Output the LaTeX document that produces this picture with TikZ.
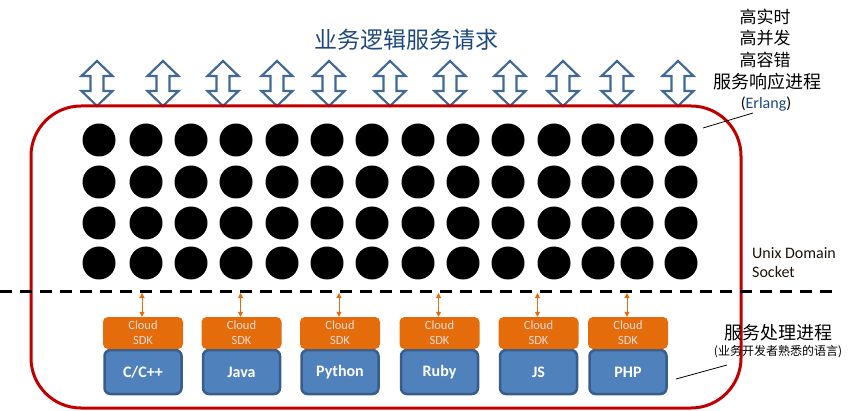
\documentclass[tikz,border=0pt]{standalone}
\usepackage{fontspec}
\setmainfont{Carlito}
\newfontfamily\cjk{Noto Sans CJK SC}
\usetikzlibrary{arrows.meta}
\definecolor{titleblue}{RGB}{31,73,125}
\definecolor{arrowblue}{RGB}{65,105,150}
\definecolor{redline}{RGB}{192,0,0}
\definecolor{sdkorange}{RGB}{228,108,10}
\definecolor{sdktext}{RGB}{242,220,219}
\definecolor{langfill}{RGB}{79,129,189}
\definecolor{langborder}{RGB}{56,93,138}
\tikzset{
  x=1pt, y=-1pt,
  dot/.style={circle, fill=black, minimum size=33pt, inner sep=0pt},
  sdkbox/.style={rectangle, rounded corners=5pt, fill=sdkorange, minimum width=80pt, minimum height=32pt, inner sep=0pt, text=sdktext, font=\fontsize{12.5}{15}\selectfont, align=center},
  langbox/.style={rectangle, rounded corners=6pt, fill=langfill, draw=langborder, line width=2.5pt, minimum width=77pt, minimum height=44pt, inner sep=0pt, text=white, font=\fontsize{16}{18}\selectfont\bfseries},
  linkarrow/.style={draw=sdkorange, line width=1pt, {Triangle[length=5pt,width=5pt]}-{Triangle[length=5pt,width=5pt]}},
  blockarrow/.style={draw=arrowblue, line width=2.2pt, fill=white, line join=miter},
  cjklabel/.style={font=\cjk\fontsize{17}{20}\selectfont, inner sep=0pt},
}
\begin{document}
\begin{tikzpicture}
\useasboundingbox (0,0) rectangle (866,411);
% title
\node[font=\cjk\fontsize{23}{26}\selectfont, text=titleblue, inner sep=0pt] (title) at (406,40) {业务逻辑服务请求};
% block arrows
\foreach \x in {97,163,223,277,329,390,450,510,563,617,678}{
  \draw[blockarrow] (\x,61) -- (\x+15.5,76) -- (\x+6.5,76) -- (\x+6.5,91) -- (\x+15.5,91) -- (\x,106) -- (\x-15.5,91) -- (\x-6.5,91) -- (\x-6.5,76) -- (\x-15.5,76) -- cycle;
}
% red frame
\draw[redline, line width=3pt, rounded corners=50pt] (31,106) rectangle (741,408);
% dots
\foreach \x [count=\i] in {99,146,191,236,282,327,372,418,463,508,554,598,637,681}{
  \foreach \y [count=\j] in {140,182,223,263}{
    \node[dot] (d\i-\j) at (\x,\y) {};
  }
}
% dashed line
\coordinate (dl) at (0,291);
\coordinate (dr) at (832,291);
\draw[line width=3pt, dash pattern=on 12pt off 8pt] (dl) -- (dr);
% sdk and language boxes
\foreach \x/\lang/\n in {143/C\slash C++/c, 241.5/Java/java, 340/Python/py, 439.5/Ruby/rb, 538.5/JS/js, 628/PHP/php}{
  \node[langbox] (l\n) at (\x,372) {\lang};
  \node[sdkbox] (s\n) at (\x,333) {Cloud\\SDK};
  \coordinate (t\n) at (\x-1,293);
}
\draw[linkarrow] (tc) -- (sc.north -| tc);
\draw[linkarrow] (tjava) -- (sjava.north -| tjava);
\draw[linkarrow] (tpy) -- (spy.north -| tpy);
\draw[linkarrow] (trb) -- (srb.north -| trb);
\draw[linkarrow] (tjs) -- (sjs.north -| tjs);
\draw[linkarrow] (tphp) -- (sphp.north -| tphp);
% right labels
\node[cjklabel] (h1) at (765,17) {高实时};
\node[cjklabel] (h2) at (765,38) {高并发};
\node[cjklabel] (h3) at (765,60) {高容错};
\node[cjklabel, font=\cjk\fontsize{18}{20}\selectfont] (h4) at (767,82) {服务响应进程};
\node[font=\fontsize{16}{18}\selectfont, inner sep=0pt] (erl) at (766,104) {(\textcolor{titleblue}{Erlang})};
\coordinate (e1) at (753,113);
\coordinate (e2) at (703,128);
\draw[line width=0.8pt] (e1) -- (e2);
\node[font=\fontsize{16}{19}\selectfont, text=black!85!brown, align=left, anchor=north west, inner sep=0pt] (uds) at (752,247) {Unix Domain\\Socket};
\node[cjklabel, font=\cjk\fontsize{18}{22}\selectfont] (svc) at (778,333) {服务处理进程};
\node[font=\cjk\fontsize{12}{14}\selectfont, inner sep=0pt] (svc2) at (778,352) {(业务开发者熟悉的语言)};
\coordinate (p1) at (727,365);
\coordinate (p2) at (676,379);
\draw[line width=0.8pt] (p1) -- (p2);
\end{tikzpicture}
\end{document}
